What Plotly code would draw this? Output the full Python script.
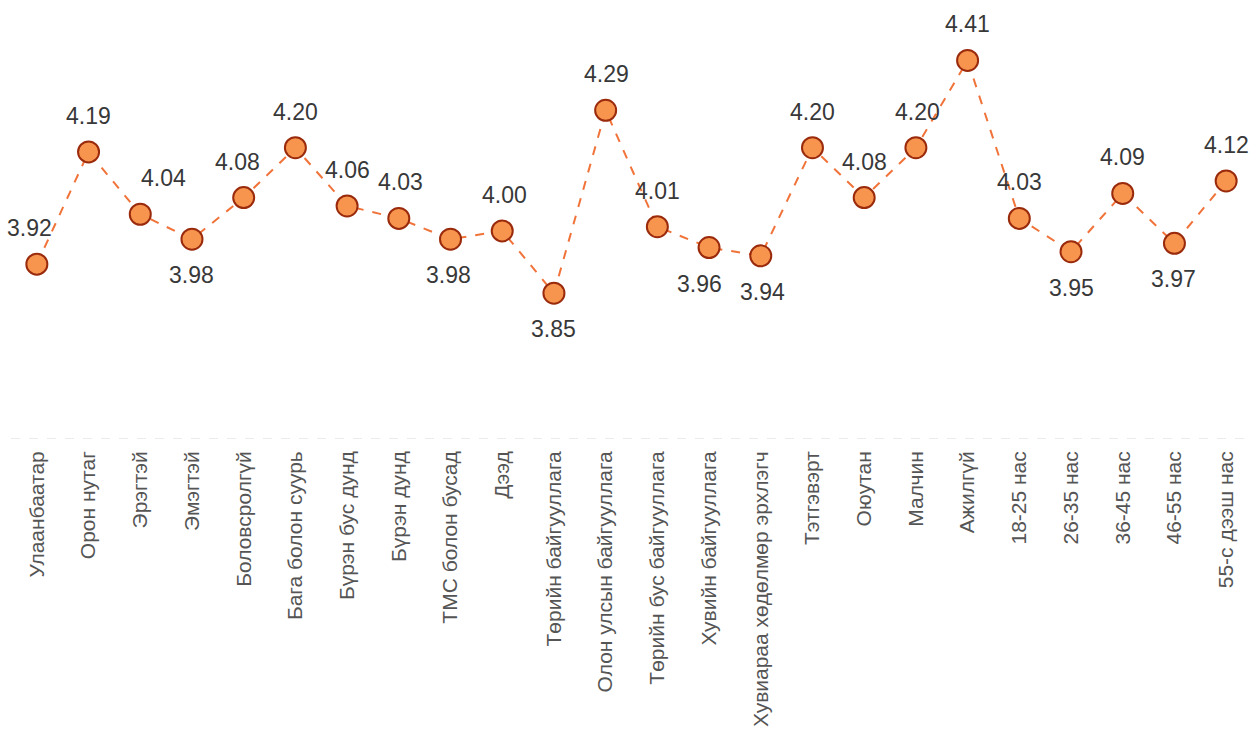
import plotly.graph_objects as go

categories = [
    "Улаанбаатар", "Орон нутаг", "Эрэгтэй", "Эмэгтэй", "Боловсролгүй",
    "Бага болон суурь", "Бүрэн бус дунд", "Бүрэн дунд", "ТМС болон бусад", "Дээд",
    "Төрийн байгууллага", "Олон улсын байгууллага", "Төрийн бус байгууллага",
    "Хувийн байгууллага", "Хувиараа хөдөлмөр эрхлэгч", "Тэтгэвэрт", "Оюутан",
    "Малчин", "Ажилгүй", "18-25 нас", "26-35 нас", "36-45 нас", "46-55 нас",
    "55-с дээш нас",
]
values = [3.92, 4.19, 4.04, 3.98, 4.08, 4.20, 4.06, 4.03, 3.98, 4.00, 3.85, 4.29,
          4.01, 3.96, 3.94, 4.20, 4.08, 4.20, 4.41, 4.03, 3.95, 4.09, 3.97, 4.12]

# label placement style: +1 above, -1 below; horizontal nudge in px
label_side = [1, 1, 1, -1, 1, 1, 1, 1, -1, 1, -1, 1, 1, -1, -1, 1, 1, 1, 1, 1, -1, 1, -1, 1]
label_dx = [-7, 0, 23, 0, -6, 0, 0, 2, -2, 2, 0, 1, 0, -10, 2, 0, 0, 2, 0, 0, 0, 0, -1, 0]

fig = go.Figure()
fig.add_trace(go.Scatter(
    x=categories, y=values, mode="lines+markers",
    line=dict(color="#F0733A", width=2, dash="dash"),
    marker=dict(size=21, color="#F7954F", line=dict(color="#9A2A0C", width=2)),
    hoverinfo="x+y", showlegend=False,
))

annotations = []
for c, v, s, dx in zip(categories, values, label_side, label_dx):
    annotations.append(dict(
        x=c, y=v, text=f"{v:.2f}", showarrow=False,
        xshift=dx, yshift=36 * s,
        font=dict(family="Liberation Sans, Arial, sans-serif", size=23, color="#383838"),
    ))

fig.update_layout(
    width=1255, height=729,
    margin=dict(l=11, r=3, t=23, b=289),
    paper_bgcolor="white", plot_bgcolor="white",
    annotations=annotations,
    xaxis=dict(
        tickangle=-90, showgrid=False, showline=False, zeroline=False,
        ticks="", range=[-0.5, 23.5], ticklabelstandoff=6,
        tickfont=dict(family="Liberation Sans, Arial, sans-serif", size=21, color="#555555"),
        automargin=False,
    ),
    yaxis=dict(
        range=[3.497, 4.5], tickvals=[3.5], showticklabels=False,
        showgrid=True, gridcolor="#EBEBEB", griddash="dash", gridwidth=1,
        zeroline=False, showline=False,
    ),
)

fig.write_html("out.html")
